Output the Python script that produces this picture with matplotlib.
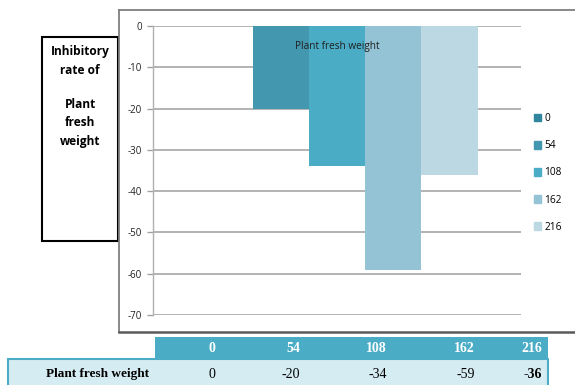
import matplotlib.pyplot as plt
import matplotlib.patches as mpatches
from matplotlib.lines import Line2D

# dose groups and inhibitory rate of plant fresh weight (%)
doses = ["0", "54", "108", "162", "216"]
fresh_weight = [0, -20, -34, -59, -36]
bar_colors = ["#31859C", "#4397AF", "#4BACC6", "#93C3D5", "#BCD9E3"]
y_ticks = [0, -10, -20, -30, -40, -50, -60, -70]

W, H = 575, 385


def fx(x):
    return x / W


def fy(y):
    return 1 - y / H


fig = plt.figure(figsize=(W / 100, H / 100), dpi=100)
fig.patch.set_facecolor("white")

# outer chart frame (open on the right)
frame_kw = dict(color="#7f7f7f", lw=1.3, transform=fig.transFigure)
fig.add_artist(Line2D([fx(119), fx(575)], [fy(10), fy(10)], **frame_kw))
fig.add_artist(Line2D([fx(119), fx(119)], [fy(10), fy(332)], **frame_kw))
fig.add_artist(Line2D([fx(119), fx(575)], [fy(332), fy(332)], color="#5a5a5a", lw=1.8,
                      transform=fig.transFigure))

# plot area
ax = fig.add_axes([fx(153), fy(315), fx(521) - fx(153), fy(26) - fy(315)])
group = 0.765
bw = group / len(doses)
for i, (d, v, c) in enumerate(zip(doses, fresh_weight, bar_colors)):
    ax.bar((i - 2) * bw, v, width=bw, color=c, label=d, zorder=2)

ax.set_xlim(-0.5, 0.5)
ax.set_ylim(-70, 0)
ax.set_yticks(y_ticks)
ax.set_yticklabels([str(t) for t in y_ticks], fontsize=7, family="Open Sans", color="#222222")
ax.tick_params(axis="y", length=4, width=1, color="#a0a0a0", pad=4)
ax.set_xticks([])
ax.yaxis.grid(True, color="#a6a6a6", lw=1.2, zorder=1)
ax.set_axisbelow(True)
for s in ["top", "right", "bottom"]:
    ax.spines[s].set_visible(False)
ax.spines["left"].set_color("#b0b0b0")
ax.spines["left"].set_linewidth(1.0)
ax.text(0.5, 0.93, "Plant fresh weight", transform=ax.transAxes, ha="center", va="center",
        fontsize=7.2, family="Open Sans", color="#1f1f1f", zorder=3)

# legend on the right
handles = [mpatches.Patch(color=c, label=d) for d, c in zip(doses, bar_colors)]
fig.legend(handles=handles, loc="upper left", bbox_to_anchor=(fx(534), fy(113)),
           frameon=False, prop={"family": "Open Sans", "size": 7.3},
           handlelength=0.7, handleheight=0.8, handletextpad=0.3,
           labelspacing=1.6, borderpad=0, borderaxespad=0)

# y-axis title box
fig.add_artist(mpatches.Rectangle((fx(42), fy(241)), fx(118) - fx(42), fy(37) - fy(241),
                                  transform=fig.transFigure, facecolor="white",
                                  edgecolor="black", lw=1.5))
for txt, y in [("Inhibitory", 52), ("rate of", 71), ("Plant", 104), ("fresh", 123), ("weight", 142)]:
    fig.text(fx(80), fy(y), txt, ha="center", va="center", fontsize=8.6,
             family="Open Sans", weight="bold", color="black")

# data table below the chart
fig.add_artist(mpatches.Rectangle((fx(155), fy(359)), fx(548) - fx(155), fy(337) - fy(359),
                                  transform=fig.transFigure, facecolor="#4BACC6", lw=0))
fig.add_artist(mpatches.Rectangle((fx(8), fy(388)), fx(548) - fx(8), fy(359) - fy(388),
                                  transform=fig.transFigure, facecolor="#D6ECF3",
                                  edgecolor="#4BACC6", lw=1.5))
col_right = [215, 300, 387, 475, 542]
for d, v, xr in zip(doses, fresh_weight, col_right):
    fig.text(fx(xr), fy(348), d, ha="right", va="center", fontsize=10,
             family="Liberation Serif", weight="bold", color="white")
    fig.text(fx(xr), fy(374), str(v), ha="right", va="center", fontsize=10,
             family="Liberation Serif", color="black",
             weight="bold" if d == "216" else "normal")
fig.text(fx(97), fy(374), "Plant fresh weight", ha="center", va="center", fontsize=9.5,
         family="Liberation Serif", weight="bold", color="black")

fig.savefig("out.png", dpi=100)
